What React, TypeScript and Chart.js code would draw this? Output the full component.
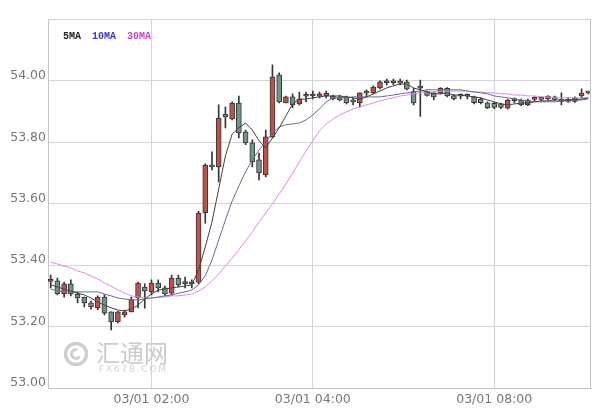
import React, { useEffect, useRef } from 'react';
import { Chart, registerables } from 'chart.js';

Chart.register(...registerables);

// OHLC of each 5-minute candle
const opens = [
  53.347, 53.349, 53.306, 53.339, 53.306, 53.296, 53.277, 53.261, 53.296, 53.248,
  53.215, 53.238, 53.248, 53.293, 53.329, 53.313, 53.342, 53.326, 53.309, 53.358,
  53.340, 53.339, 53.345, 53.570, 53.723, 53.720, 53.892, 53.876, 53.928, 53.834,
  53.798, 53.743, 53.694, 53.818, 54.020, 53.928, 53.948, 53.925, 53.950, 53.951,
  53.950, 53.951, 53.951, 53.948, 53.948, 53.933, 53.928, 53.960, 53.961, 53.977,
  53.994, 53.994, 53.995, 53.997, 53.965, 53.976, 53.965, 53.961, 53.960, 53.976,
  53.952, 53.952, 53.951, 53.948, 53.941, 53.929, 53.927, 53.925, 53.911, 53.936,
  53.938, 53.922, 53.940, 53.941, 53.941, 53.948, 53.935, 53.933, 53.933, 53.951,
  53.961,
];
const highs = [
  53.368, 53.358, 53.345, 53.352, 53.313, 53.296, 53.283, 53.300, 53.303, 53.248,
  53.250, 53.254, 53.296, 53.345, 53.339, 53.352, 53.352, 53.332, 53.368, 53.368,
  53.361, 53.352, 53.575, 53.730, 53.769, 53.922, 53.915, 53.932, 53.951, 53.840,
  53.808, 53.765, 53.840, 54.052, 54.026, 53.951, 53.958, 53.964, 53.964, 53.967,
  53.964, 53.967, 53.954, 53.954, 53.951, 53.945, 53.961, 53.971, 53.984, 54.000,
  54.006, 54.006, 54.006, 54.003, 53.977, 54.003, 53.968, 53.964, 53.978, 53.978,
  53.955, 53.958, 53.958, 53.951, 53.945, 53.932, 53.930, 53.928, 53.941, 53.945,
  53.941, 53.941, 53.948, 53.948, 53.952, 53.951, 53.961, 53.945, 53.948, 53.974,
  53.964,
];
const lows = [
  53.326, 53.303, 53.296, 53.300, 53.277, 53.264, 53.257, 53.254, 53.238, 53.189,
  53.212, 53.231, 53.248, 53.261, 53.260, 53.303, 53.313, 53.300, 53.303, 53.329,
  53.326, 53.326, 53.340, 53.537, 53.710, 53.671, 53.847, 53.873, 53.814, 53.792,
  53.720, 53.678, 53.687, 53.814, 53.928, 53.928, 53.912, 53.922, 53.932, 53.941,
  53.945, 53.945, 53.938, 53.935, 53.925, 53.922, 53.915, 53.948, 53.958, 53.974,
  53.987, 53.987, 53.987, 53.971, 53.922, 53.884, 53.950, 53.938, 53.958, 53.948,
  53.938, 53.941, 53.941, 53.925, 53.925, 53.910, 53.910, 53.910, 53.908, 53.928,
  53.919, 53.919, 53.935, 53.935, 53.938, 53.936, 53.922, 53.930, 53.930, 53.945,
  53.958,
];
const closes = [
  53.349, 53.306, 53.339, 53.306, 53.293, 53.277, 53.264, 53.296, 53.244, 53.215,
  53.248, 53.248, 53.287, 53.342, 53.316, 53.342, 53.326, 53.306, 53.358, 53.336,
  53.342, 53.345, 53.570, 53.726, 53.720, 53.879, 53.883, 53.928, 53.831, 53.798,
  53.736, 53.700, 53.818, 54.013, 53.932, 53.948, 53.922, 53.941, 53.952, 53.952,
  53.958, 53.960, 53.941, 53.938, 53.928, 53.932, 53.961, 53.962, 53.980, 53.997,
  53.995, 53.995, 53.993, 53.973, 53.928, 53.978, 53.953, 53.948, 53.976, 53.951,
  53.941, 53.950, 53.950, 53.929, 53.929, 53.913, 53.914, 53.914, 53.938, 53.936,
  53.922, 53.938, 53.941, 53.940, 53.950, 53.940, 53.933, 53.941, 53.944, 53.960,
  53.961,
];

// moving-average lines
const ma5 = [
  53.336, 53.329, 53.322, 53.316, 53.309, 53.303, 53.293, 53.280, 53.270, 53.261,
  53.254, 53.251, 53.257, 53.270, 53.290, 53.306, 53.319, 53.322, 53.326, 53.329,
  53.332, 53.336, 53.384, 53.459, 53.541, 53.648, 53.756, 53.827, 53.847, 53.863,
  53.840, 53.805, 53.782, 53.814, 53.847, 53.886, 53.925, 53.941, 53.941, 53.945,
  53.948, 53.951, 53.951, 53.951, 53.948, 53.945, 53.941, 53.948, 53.958, 53.967,
  53.977, 53.984, 53.990, 53.990, 53.977, 53.971, 53.964, 53.958, 53.958, 53.961,
  53.954, 53.954, 53.951, 53.948, 53.945, 53.938, 53.932, 53.925, 53.922, 53.925,
  53.928, 53.928, 53.932, 53.935, 53.935, 53.938, 53.938, 53.938, 53.938, 53.941,
  53.945,
];
const ma10 = [
  53.322, 53.316, 53.313, 53.313, 53.313, 53.313, 53.313, 53.313, 53.306, 53.300,
  53.293, 53.290, 53.287, 53.287, 53.290, 53.293, 53.296, 53.300, 53.303, 53.309,
  53.313, 53.319, 53.336, 53.365, 53.417, 53.482, 53.547, 53.609, 53.658, 53.704,
  53.743, 53.775, 53.801, 53.831, 53.850, 53.857, 53.860, 53.863, 53.873, 53.889,
  53.909, 53.932, 53.945, 53.945, 53.945, 53.948, 53.948, 53.948, 53.948, 53.948,
  53.951, 53.954, 53.958, 53.961, 53.964, 53.967, 53.971, 53.971, 53.971, 53.971,
  53.971, 53.971, 53.967, 53.964, 53.961, 53.958, 53.951, 53.948, 53.945, 53.941,
  53.938, 53.935, 53.932, 53.932, 53.932, 53.932, 53.935, 53.935, 53.938, 53.938,
  53.941,
];
const ma30 = [
  53.410, 53.404, 53.397, 53.391, 53.381, 53.375, 53.365, 53.355, 53.342, 53.332,
  53.319, 53.309, 53.300, 53.296, 53.293, 53.293, 53.296, 53.296, 53.300, 53.300,
  53.303, 53.306, 53.316, 53.329, 53.349, 53.371, 53.397, 53.423, 53.450, 53.479,
  53.508, 53.541, 53.570, 53.599, 53.632, 53.664, 53.700, 53.736, 53.772, 53.805,
  53.837, 53.860, 53.876, 53.889, 53.899, 53.909, 53.915, 53.922, 53.928, 53.935,
  53.941, 53.945, 53.951, 53.954, 53.958, 53.961, 53.964, 53.964, 53.967, 53.967,
  53.967, 53.967, 53.967, 53.964, 53.964, 53.961, 53.961, 53.958, 53.958, 53.954,
  53.954, 53.951, 53.951, 53.948, 53.948, 53.945, 53.945, 53.945, 53.945, 53.945,
  53.945,
];

const timeTickIndex = [15, 39, 66];
const timeTickLabels = ['03/01 02:00', '03/01 04:00', '03/01 08:00'];
const legendNames = ['5MA', '10MA', '30MA'];
const legendColors = ['#222222', '#3a3ac8', '#cc44cc'];

const lineColors = ['#444444', '#6a6a9e', '#e08ae0'];

export default function App() {
  const ref = useRef<HTMLCanvasElement>(null);

  useEffect(() => {
    const idx = closes.map((_, i) => i);
    const up = idx.map((i) => closes[i] >= opens[i]);
    const maSeries = [ma5, ma10, ma30];

    const overlay = {
      id: 'overlay',
      afterDraw(chart: any) {
        const { ctx, chartArea } = chart;
        const { right, top, bottom } = chartArea;
        ctx.save();
        // right frame edge
        ctx.strokeStyle = '#c4c4c4';
        ctx.lineWidth = 1;
        ctx.beginPath();
        const r = Math.round(right) - 0.5;
        ctx.moveTo(r, Math.round(top));
        ctx.lineTo(r, Math.round(bottom));
        ctx.stroke();
        // legend texts
        ctx.font = 'bold 10px "Liberation Mono"';
        ctx.textBaseline = 'middle';
        const xs = [63, 92, 127];
        legendNames.forEach((n, k) => {
          ctx.fillStyle = legendColors[k];
          ctx.fillText(n, xs[k], 36);
        });
        // watermark
        ctx.strokeStyle = '#cfcfcf';
        ctx.lineWidth = 3.5;
        ctx.beginPath();
        ctx.arc(76, 354, 10.5, 0, Math.PI * 2);
        ctx.stroke();
        ctx.lineWidth = 3;
        ctx.beginPath();
        ctx.arc(76, 354, 4.5, Math.PI * 0.2, Math.PI * 1.6);
        ctx.stroke();
        ctx.fillStyle = '#cbcbcb';
        ctx.font = '24px "Noto Sans CJK SC"';
        ctx.textBaseline = 'middle';
        ctx.fillText('汇通网', 96, 353);
        ctx.fillStyle = '#d4d4d4';
        ctx.font = '9px "DejaVu Sans"';
        const wm = 'FX678.COM';
        let wx = 99;
        for (const ch of wm) {
          ctx.fillText(ch, wx, 370);
          wx += ctx.measureText(ch).width + 1.8;
        }
        ctx.restore();
      },
    };

    const chart = new Chart(ref.current as HTMLCanvasElement, {
      type: 'bar',
      data: {
        datasets: [
          ...maSeries.map((s, k) => ({
            type: 'line' as const,
            label: legendNames[k],
            data: idx.map((i) => ({ x: i, y: s[i] })),
            borderColor: lineColors[k],
            borderWidth: 1,
            pointRadius: 0,
            tension: 0,
            order: 0,
          })),
          {
            type: 'bar' as const,
            label: 'body',
            data: idx.map((i) => ({ x: i, y: [opens[i], closes[i]] })),
            backgroundColor: up.map((u) => (u ? '#bd524c' : '#729483')),
            borderColor: '#363636',
            borderWidth: 1,
            borderSkipped: false,
            barThickness: 5,
            minBarLength: 2,
            grouped: false,
            order: 1,
          },
          {
            type: 'bar' as const,
            label: 'wick',
            data: idx.map((i) => ({ x: i, y: [lows[i], highs[i]] })),
            backgroundColor: '#363636',
            borderWidth: 0,
            barThickness: 1,
            grouped: false,
            order: 2,
          },
        ] as any,
      },
      options: {
        responsive: false,
        animation: false,
        layout: { padding: { top: 19.5, right: 7, left: 0, bottom: 0 } },
        plugins: { legend: { display: false }, tooltip: { enabled: false } },
        scales: {
          x: {
            type: 'linear',
            min: -0.4,
            max: 80.4,
            offset: false,
            afterBuildTicks: (s: any) => {
              s.ticks = timeTickIndex.map((v) => ({ value: v }));
            },
            afterFit: (s: any) => {
              s.height = 24;
            },
            ticks: {
              autoSkip: false,
              maxRotation: 0,
              padding: 4,
              color: '#777777',
              font: { family: 'DejaVu Sans', size: 12.5 },
              callback: (v: any) => {
                const k = timeTickIndex.indexOf(Number(v));
                return k >= 0 ? timeTickLabels[k] : '';
              },
            },
            grid: { color: '#d4d4d4', drawTicks: false, offset: false },
            border: { color: '#c4c4c4' },
          },
          y: {
            min: 53,
            max: 54.2,
            afterFit: (s: any) => {
              s.width = 48;
            },
            ticks: {
              stepSize: 0.2,
              padding: 2,
              labelOffset: -5,
              color: '#777777',
              font: { family: 'DejaVu Sans', size: 12.5 },
              callback: (v: any) => (Math.abs(Number(v) - 54.2) < 1e-6 ? '' : Number(v).toFixed(2)),
            },
            grid: { color: '#d4d4d4', drawTicks: false },
            border: { color: '#c4c4c4' },
          },
        },
      } as any,
      plugins: [overlay],
    });
    return () => chart.destroy();
  }, []);

  return (
    <div style={{ position: 'absolute', left: 0, top: 0, width: 598, height: 412, background: '#fff' }}>
      <canvas ref={ref} width={598} height={412} style={{ display: 'block' }} />
    </div>
  );
}
